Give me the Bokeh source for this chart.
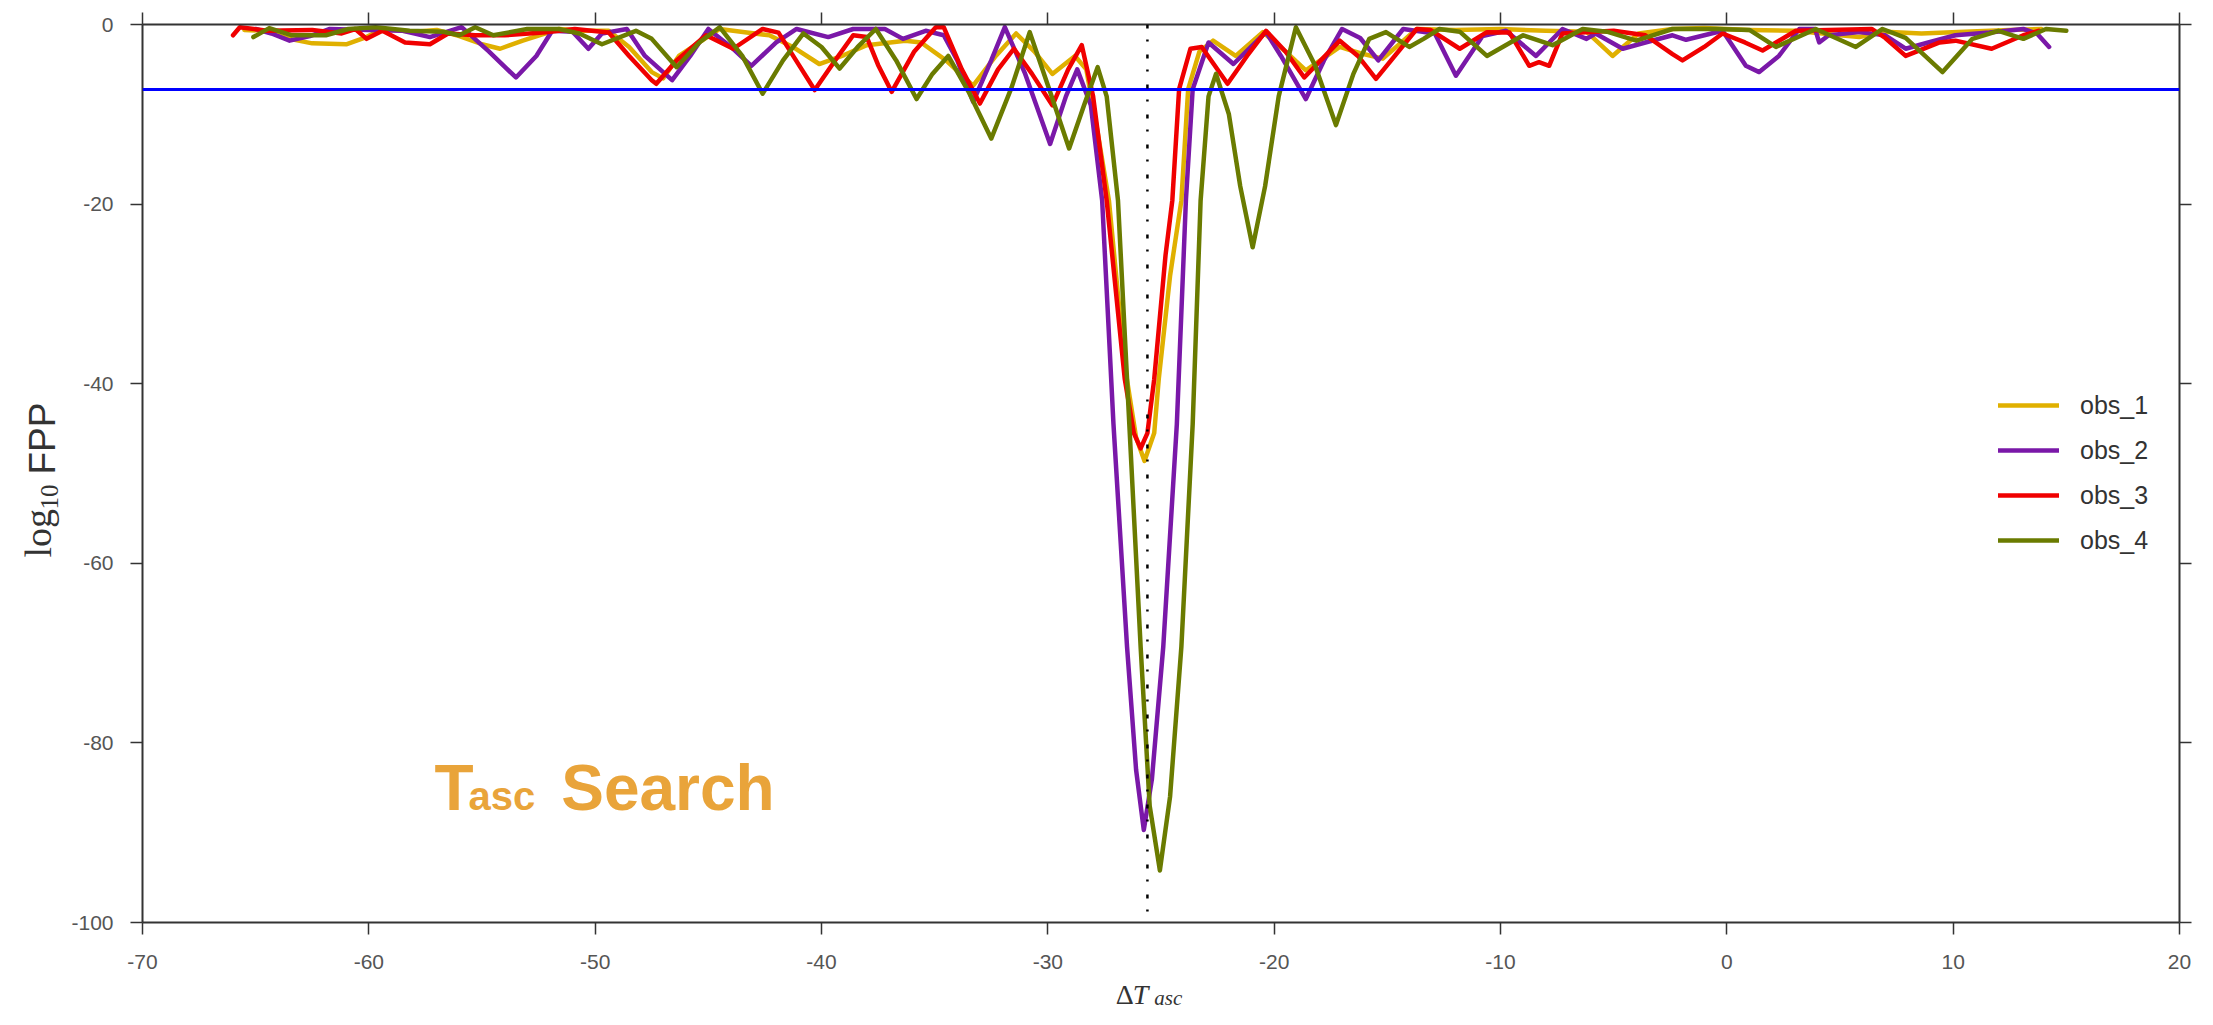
import math
from bokeh.plotting import figure
from bokeh.layouts import row, column
from bokeh.models import (Range1d, LinearAxis, Span, Label, Legend, LegendItem,
                          FixedTicker, ColumnDataSource)
from bokeh.embed import file_html
from bokeh.resources import INLINE

# ---------------- data ----------------
series_names = ["obs_1", "obs_2", "obs_3", "obs_4"]
series_colors = ["#e0b000", "#7a18a8", "#f00000", "#6a7b00"]

obs1_x = [-65.5, -64.6, -63.5, -62.5, -61.0, -60.2, -59.4, -58.0, -57.0, -56.0, -55.0, -54.2, -53.2,
          -51.6, -50.5, -49.4, -48.5, -47.5, -47.0, -46.3, -44.5, -43.3, -42.3, -41.2, -40.1, -39.0,
          -38.0, -36.3, -35.6, -34.5, -33.3, -32.3, -31.4, -30.6, -29.8, -28.8, -28.3, -27.8, -27.3,
          -26.6, -26.1, -25.73, -25.3, -25.1, -24.6, -24.1, -23.8, -23.3, -22.7, -21.7, -20.5, -19.5,
          -18.6, -17.1, -16.2, -15.2, -13.7, -12.0, -10.0, -8.0, -6.2, -5.05, -3.9, -2.4, -1.0, 1.0,
          3.0, 5.0, 5.85, 7.0, 8.6, 10.5, 12.5, 13.9]
obs1_y = [-0.6, -0.7, -1.6, -2.1, -2.2, -1.5, -0.5, -0.8, -0.6, -1.3, -2.2, -2.7, -1.8,
          -0.5, -0.7, -0.7, -2.5, -5.3, -6.0, -3.5, -0.5, -0.9, -1.2, -2.6, -4.4, -3.4,
          -2.3, -1.8, -2.0, -4.0, -6.8, -3.5, -1.0, -3.0, -5.5, -3.5, -5.0, -12.0, -19.6,
          -38.0, -46.0, -48.6, -45.5, -39.5, -28.0, -19.6, -7.2, -3.0, -1.8, -3.5, -0.85, -3.0,
          -5.1, -2.5, -3.2, -3.8, -0.5, -0.6, -0.5, -0.7, -0.8, -3.5, -1.0, -0.5, -0.4, -0.6,
          -0.7, -1.2, -1.4, -0.8, -1.0, -0.8, -0.6, -0.5]

obs2_x = [-65.0, -64.3, -63.5, -62.6, -61.75, -60.0, -58.5, -57.3, -55.9, -54.7, -53.5, -52.6, -51.9,
          -51.0, -50.3, -49.7, -48.6, -47.8, -46.6, -45.8, -45.0, -44.0, -43.1, -42.0, -41.1, -39.7,
          -38.6, -37.2, -36.4, -35.4, -34.6, -34.0, -33.3, -32.5, -31.9, -31.0, -29.9, -29.2, -28.7,
          -28.1, -27.6, -27.1, -26.5, -26.1, -25.76, -25.4, -24.9, -24.3, -23.9, -23.6, -22.9, -21.8,
          -20.36, -19.7, -18.6, -17.8, -17.0, -16.2, -15.4, -14.3, -12.9, -11.97, -10.8, -9.76, -8.43,
          -7.26, -6.2, -5.8, -4.6, -3.6, -2.4, -1.8, -0.19, 0.84, 1.43, 2.3, 3.2, 3.9, 4.08, 4.5,
          5.85, 7.0, 7.9, 8.9, 10.1, 11.6, 13.1, 13.7, 14.24]
obs2_y = [-0.5, -1.0, -1.8, -1.3, -0.5, -0.6, -0.7, -1.4, -0.3, -3.0, -5.9, -3.5, -0.7,
          -0.8, -2.7, -1.0, -0.5, -3.5, -6.2, -3.5, -0.5, -2.5, -4.6, -2.0, -0.5, -1.4,
          -0.5, -0.5, -1.6, -0.7, -1.2, -4.0, -8.6, -4.0, -0.3, -5.5, -13.3, -8.0, -5.0,
          -9.0, -19.6, -44.5, -69.3, -83.0, -89.7, -84.0, -69.3, -44.5, -19.6, -7.2, -2.0, -4.4,
          -0.85, -3.5, -8.3, -4.0, -0.5, -1.5, -4.0, -0.5, -1.0, -5.7, -1.3, -0.7, -3.5,
          -0.5, -1.6, -1.0, -2.7, -2.0, -1.2, -1.7, -0.7, -4.6, -5.3, -3.5, -0.5, -0.5, -2.0, -1.2,
          -0.85, -1.2, -2.7, -2.0, -1.2, -0.9, -0.5, -1.0, -2.5]

obs3_x = [-66.0, -65.7, -64.5, -62.5, -61.2, -60.6, -60.1, -59.4, -58.4, -57.3, -56.5, -55.3, -54.0,
          -52.3, -50.9, -49.4, -48.5, -47.5, -47.3, -46.4, -45.1, -43.9, -42.6, -41.9, -41.0, -40.3,
          -39.4, -38.6, -38.0, -37.5, -36.9, -35.9, -34.95, -34.6, -33.8, -33.0, -32.2, -31.5, -30.7,
          -29.8, -29.1, -28.5, -28.0, -27.4, -26.6, -26.2, -25.9, -25.6, -25.3, -24.8, -24.5, -24.2,
          -23.7, -23.2, -22.06, -21.2, -20.36, -19.5, -18.67, -17.1, -16.3, -15.5, -13.7, -13.1, -11.8,
          -10.6, -9.6, -8.73, -8.3, -7.85, -7.26, -5.0, -3.6, -2.4, -1.96, -1.0, -0.19, 0.8, 1.58,
          3.05, 6.4, 7.0, 7.9, 8.6, 9.4, 10.1, 11.7, 13.1, 13.8]
obs3_y = [-1.2, -0.3, -0.7, -0.6, -1.0, -0.5, -1.6, -0.7, -2.0, -2.2, -1.0, -1.2, -1.2,
          -0.9, -0.5, -0.9, -3.5, -6.2, -6.6, -4.0, -1.2, -2.7, -0.5, -0.9, -4.5, -7.3,
          -4.0, -1.2, -1.4, -4.5, -7.5, -3.0, -0.3, -0.3, -5.0, -8.8, -5.0, -2.7, -5.5,
          -9.0, -5.0, -2.3, -8.0, -19.6, -39.5, -45.5, -47.2, -45.5, -39.5, -25.7, -19.6, -7.2,
          -2.7, -2.5, -6.6, -3.5, -0.7, -3.0, -5.9, -1.8, -3.5, -6.05, -0.5, -0.6, -2.7,
          -0.85, -0.9, -4.6, -4.2, -4.6, -1.0, -0.7, -1.2, -3.3, -4.0, -2.5, -1.0, -2.0, -2.9,
          -0.7, -0.5, -1.5, -3.5, -2.8, -2.0, -1.8, -2.7, -1.2, -0.7]

obs4_x = [-65.1, -64.4, -63.4, -61.9, -60.9, -59.7, -58.2, -56.7, -56.0, -55.3, -54.5, -53.0, -51.6,
          -50.7, -49.7, -48.2, -47.5, -46.4, -45.4, -44.5, -43.5, -42.6, -41.7, -40.8, -40.0, -39.2,
          -38.4, -37.6, -36.7, -35.8, -35.1, -34.4, -33.5, -32.5, -31.6, -30.8, -29.9, -29.06, -28.4,
          -27.8, -27.4, -26.9, -26.4, -25.9, -25.5, -25.05, -24.6, -24.1, -23.6, -23.25, -22.9, -22.57,
          -22.0, -21.5, -20.95, -20.4, -19.8, -19.04, -18.2, -17.27, -16.5, -15.8, -15.06, -14.03, -13.4,
          -12.7, -11.8, -10.6, -9.0, -7.7, -6.37, -5.3, -4.0, -2.4, -0.5, 1.0, 2.17, 3.93, 5.7,
          6.88, 7.9, 9.53, 10.85, 12.0, 13.1, 14.1, 15.0]
obs4_y = [-1.4, -0.4, -1.2, -1.2, -0.5, -0.3, -0.7, -0.8, -1.2, -0.3, -1.2, -0.5, -0.5,
          -1.0, -2.2, -0.7, -1.6, -4.75, -2.0, -0.3, -3.5, -7.7, -4.0, -1.0, -2.5, -4.9,
          -2.5, -0.5, -4.0, -8.3, -5.5, -3.5, -7.5, -12.7, -7.0, -0.85, -7.5, -13.8, -9.0,
          -4.75, -8.0, -19.6, -44.5, -69.3, -87.0, -94.2, -86.0, -69.3, -44.5, -19.6, -8.0, -5.5,
          -10.0, -18.0, -24.8, -18.0, -8.0, -0.3, -4.5, -11.2, -5.5, -1.6, -0.85, -2.5, -1.6,
          -0.5, -0.8, -3.5, -1.2, -2.3, -0.5, -0.8, -1.8, -0.5, -0.5, -0.6, -2.5, -0.5, -2.5,
          -0.5, -1.5, -5.3, -1.6, -0.7, -1.6, -0.5, -0.7]

threshold = -7.25          # horizontal blue line (log10 FPP)
true_offset = -25.6        # vertical dotted line (Delta T_asc)

x_ticks = [-70, -60, -50, -40, -30, -20, -10, 0, 10, 20]
y_ticks = [-100, -80, -60, -40, -20, 0]

TOTAL_W, TOTAL_H = 2197, 1009
YT_W = 66          # strip holding the y-axis title
XT_H = 31          # strip holding the x-axis title
MAIN_W = TOTAL_W - YT_W
MAIN_H = TOTAL_H - XT_H
LEFT_B, RIGHT_B = 142 - YT_W, 18
TEXT = "#333333"

# ---------------- main figure ----------------
p = figure(width=MAIN_W, height=MAIN_H, x_range=Range1d(-70, 20), y_range=Range1d(-100, 0),
           output_backend="svg", toolbar_location=None,
           x_axis_location=None, y_axis_location=None,
           min_border_left=LEFT_B, min_border_right=RIGHT_B, min_border_top=24,
           min_border_bottom=MAIN_H - 922)
p.grid.visible = False
p.outline_line_color = None

def style_axis(ax, ticks, show_labels):
    ax.ticker = FixedTicker(ticks=ticks)
    ax.axis_line_color = TEXT
    ax.axis_line_width = 2
    ax.major_tick_line_color = TEXT
    ax.major_tick_line_width = 1.5
    ax.major_tick_out = 12
    ax.major_tick_in = 0
    ax.minor_tick_out = 0
    ax.minor_tick_in = 0
    ax.major_label_text_font = "Liberation Sans"
    ax.major_label_text_color = "#555555"
    if show_labels:
        ax.major_label_text_font_size = "21px"
        ax.major_label_overrides = {t: str(t) for t in ticks}
    else:
        ax.major_label_overrides = {t: "" for t in ticks}
        ax.major_label_text_font_size = "1px"
        ax.major_label_standoff = 0

xb = LinearAxis(); style_axis(xb, x_ticks, True); xb.major_label_standoff = 20
yl = LinearAxis(); style_axis(yl, y_ticks, True); yl.major_label_standoff = 17
xt = LinearAxis(); style_axis(xt, x_ticks, False)
yr = LinearAxis(); style_axis(yr, y_ticks, False)
p.add_layout(xb, "below")
p.add_layout(yl, "left")
p.add_layout(xt, "above")
p.add_layout(yr, "right")

renderers = []
for xs, ys, c in [(obs1_x, obs1_y, series_colors[0]), (obs2_x, obs2_y, series_colors[1]),
                  (obs3_x, obs3_y, series_colors[2]), (obs4_x, obs4_y, series_colors[3])]:
    src = ColumnDataSource(data=dict(x=xs, y=ys))
    r = p.line("x", "y", source=src, line_color=c, line_width=4.5, line_join="round", line_cap="round")
    renderers.append(r)

p.add_layout(Span(location=threshold, dimension="width", line_color="#0000ff", line_width=3))
p.add_layout(Span(location=true_offset, dimension="height", line_color="black",
                  line_width=2.5, line_dash="4 11 2 13"))

legend = Legend(items=[LegendItem(label=n, renderers=[r]) for n, r in zip(series_names, renderers)],
                location=(1856, 367), border_line_color=None, background_fill_alpha=0,
                padding=0, margin=0, spacing=15, glyph_width=61, glyph_height=30, label_height=30,
                label_standoff=21, label_text_font="Liberation Sans", label_text_font_size="25px",
                label_text_color=TEXT)
p.add_layout(legend)

# annotation text "Tasc Search"
orange = "#e9a43a"
p.add_layout(Label(x=-57.1, y=-84.97, text="T", text_font="Liberation Sans", text_font_style="bold",
                   text_font_size="64px", text_color=orange, text_baseline="middle"))
p.add_layout(Label(x=-55.6, y=-85.96, text="asc", text_font="Liberation Sans", text_font_style="bold",
                   text_font_size="40px", text_color=orange, text_baseline="middle"))
p.add_layout(Label(x=-51.5, y=-84.97, text="Search", text_font="Liberation Sans", text_font_style="bold",
                   text_font_size="64px", text_color=orange, text_baseline="middle"))

# ---------------- x-axis title strip: ΔT_asc ----------------
fx = figure(width=MAIN_W, height=XT_H, x_range=p.x_range, y_range=Range1d(0, 1),
            output_backend="svg", toolbar_location=None,
            x_axis_location=None, y_axis_location=None,
            min_border_left=LEFT_B, min_border_right=RIGHT_B, min_border_top=0, min_border_bottom=0)
fx.grid.visible = False
fx.outline_line_color = None
fx.add_layout(Label(x=-27.0, y=15.5, x_units="data", y_units="screen", text="Δ",
                    text_font="Liberation Serif", text_font_size="28px", text_color=TEXT,
                    text_baseline="middle"))
fx.add_layout(Label(x=-26.25, y=15.5, x_units="data", y_units="screen", text="T",
                    text_font="Liberation Serif", text_font_style="italic", text_font_size="28px",
                    text_color=TEXT, text_baseline="middle"))
fx.add_layout(Label(x=-25.3, y=12, x_units="data", y_units="screen", text="asc",
                    text_font="Liberation Serif", text_font_style="italic", text_font_size="21px",
                    text_color=TEXT, text_baseline="middle"))

# ---------------- y-axis title strip: log10 FPP ----------------
fy = figure(width=YT_W, height=TOTAL_H, x_range=Range1d(0, 1), y_range=Range1d(0, 1),
            output_backend="svg", toolbar_location=None,
            x_axis_location=None, y_axis_location=None, min_border=0)
fy.grid.visible = False
fy.outline_line_color = None
fy.add_layout(Label(x=37.2, y=452, x_units="screen", y_units="screen", text="log", angle=math.pi / 2,
                    text_font="Liberation Serif", text_font_size="38px", text_color=TEXT,
                    text_baseline="middle", text_align="left"))
fy.add_layout(Label(x=48.6, y=500, x_units="screen", y_units="screen", text="10", angle=math.pi / 2,
                    text_font="Liberation Serif", text_font_size="25px", text_color=TEXT,
                    text_baseline="middle", text_align="left"))
fy.add_layout(Label(x=42.2, y=535, x_units="screen", y_units="screen", text="FPP", angle=math.pi / 2,
                    text_font="Liberation Sans", text_font_size="37px", text_color=TEXT,
                    text_baseline="middle", text_align="left"))

layout = row(fy, column(p, fx, spacing=0), spacing=0)
open("out.html", "w").write(file_html(layout, INLINE))
